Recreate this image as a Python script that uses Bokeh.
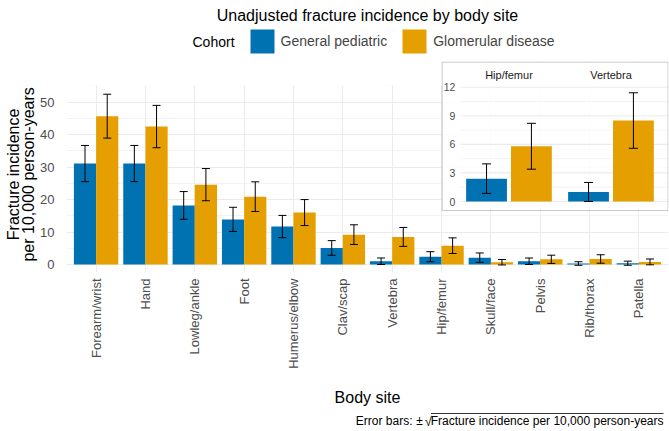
import math
import numpy as np
from bokeh.plotting import figure
from bokeh.layouts import column
from bokeh.models import (ColumnDataSource, Range1d, Whisker, TeeHead, Label, FixedTicker,
                          LabelSet, BoxAnnotation, Legend, LegendItem, LinearScale)
from bokeh.transform import dodge
from bokeh.core.properties import value
from bokeh.embed import file_html
from bokeh.resources import INLINE

# ---------------- data ----------------
sites = ["Forearm/wrist", "Hand", "Lowleg/ankle", "Foot", "Humerus/elbow", "Clav/scap",
         "Vertebra", "Hip/femur", "Skull/face", "Pelvis", "Rib/thorax", "Patella"]
general = [31.1, 31.1, 18.2, 13.9, 11.7, 5.1, 1.0, 2.4, 2.1, 1.0, 0.3, 0.4]
glomerular = [45.7, 42.5, 24.6, 20.9, 16.0, 9.2, 8.5, 5.8, 0.7, 1.6, 1.7, 0.8]
cohorts = ["General pediatric", "Glomerular disease"]
colors = ["#0072B2", "#E69F00"]
y_ticks = [0, 10, 20, 30, 40, 50]
y_minor = [5, 15, 25, 35, 45, 55]
inset_sites = ["Hip/femur", "Vertebra"]
inset_ticks = [0, 3, 6, 9, 12]
inset_minor = [1.5, 4.5, 7.5, 10.5]

FONT = "Liberation Sans"
W = 669
H_HEAD, H_MAIN, H_FOOT = 58, 329, 44
FL, FR = 66, 668          # frame left/right (canvas px)
FRAME_H = 214             # main frame: canvas y 58 .. 272
NB = "\u00a0" * 4

gen = np.array(general)
glo = np.array(glomerular)
pos = [i + 0.5 for i in range(len(sites))]  # category centres on the numeric x scale
src = ColumnDataSource(dict(pos=pos, site=sites, gen=gen, glo=glo,
                            gen_lo=gen - np.sqrt(gen), gen_hi=gen + np.sqrt(gen),
                            glo_lo=glo - np.sqrt(glo), glo_hi=glo + np.sqrt(glo)))

idx = [sites.index(s) for s in inset_sites]
igen = gen[idx]
iglo = glo[idx]
isrc = ColumnDataSource(dict(pos=list(range(len(inset_sites))), gen=igen, glo=iglo,
                             gen_lo=igen - np.sqrt(igen), gen_hi=igen + np.sqrt(igen),
                             glo_lo=iglo - np.sqrt(iglo), glo_hi=iglo + np.sqrt(iglo)))


def strip(height):
    f = figure(width=W, height=height, x_range=Range1d(FL, FR), y_range=Range1d(0, height),
               output_backend="svg", toolbar_location=None, min_border=0,
               x_axis_location=None, y_axis_location=None)
    f.outline_line_color = None
    f.xgrid.visible = False
    f.ygrid.visible = False
    return f


# ---------------- header: title + legend ----------------
hd = strip(H_HEAD)
hd.text(x=[367], y=[H_HEAD - 14.5], text=["Unadjusted fracture incidence by body site"], text_align="center",
        text_baseline="alphabetic", text_font=value(FONT), text_font_size="16px", text_color="black")
hd.text(x=[192], y=[H_HEAD - 41], text=["Cohort"], text_align="left", text_baseline="middle",
        text_font=value(FONT), text_font_size="14px", text_color="black")
lg_r = [hd.vbar(x=[0], top=[0], width=1, fill_color=c, line_color=None) for c in colors]
hd.add_layout(Legend(items=[LegendItem(label=cohorts[i], renderers=[lg_r[i]]) for i in range(2)],
                     location=(180.6, 2), orientation="horizontal", glyph_width=30, glyph_height=30,
                     label_standoff=4, spacing=12, padding=0, margin=0, border_line_color=None,
                     background_fill_alpha=0, label_text_font=FONT, label_text_font_size="14px",
                     label_height=30))

# ---------------- main plot ----------------
p = figure(width=W, height=H_MAIN, x_range=Range1d(-0.1, len(sites) + 0.1), y_range=Range1d(-2.465, 63.46),
           output_backend="svg", toolbar_location=None,
           min_border_left=FL, min_border_right=W - FR, min_border_top=0, min_border_bottom=H_MAIN - FRAME_H)
p.outline_line_color = None
p.background_fill_color = "white"
p.extra_x_ranges = {"ix": Range1d(-4.338, 1.564)}
p.extra_x_scales = {"ix": LinearScale()}
p.extra_y_ranges = {"iy": Range1d(-7.454, 15.013)}
p.extra_y_scales = {"iy": LinearScale()}

yt = FixedTicker(ticks=y_ticks, minor_ticks=y_minor)
p.yaxis.ticker = yt
p.ygrid.ticker = yt
xt = FixedTicker(ticks=pos, minor_ticks=[])
p.xaxis.ticker = xt
p.xgrid.ticker = xt
p.xaxis.major_label_overrides = {x: s for x, s in zip(pos, sites)}
p.ygrid.grid_line_color = "#EBEBEB"
p.ygrid.grid_line_width = 1.1
p.ygrid.minor_grid_line_color = "#EBEBEB"
p.ygrid.minor_grid_line_width = 0.6
p.xgrid.grid_line_color = "#EBEBEB"
p.xgrid.grid_line_width = 1.1
# blank the grid above the panel
p.add_layout(BoxAnnotation(bottom=55.1, fill_color="white", fill_alpha=1, line_color=None, level="underlay"))

for ax in (p.xaxis, p.yaxis):
    ax.axis_line_color = None
    ax.major_tick_line_color = None
    ax.minor_tick_line_color = None
    ax.major_tick_out = 0
    ax.major_tick_in = 0
    ax.major_label_text_font = FONT
    ax.major_label_text_font_size = "13px"
    ax.major_label_text_color = "#4D4D4D"
    ax.axis_label_text_font = FONT
    ax.axis_label_text_font_size = "16px"
    ax.axis_label_text_font_style = "normal"
    ax.axis_label_text_color = "black"
p.xaxis.major_label_orientation = math.pi / 2
p.xaxis.major_label_standoff = 6
p.yaxis.major_label_standoff = 8
p.yaxis.axis_label = "Fracture incidence" + NB + "\nper 10,000 person-years" + NB
p.yaxis.axis_label_text_line_height = 0.9
p.yaxis.axis_label_standoff = 0

p.vbar(x=dodge("pos", -0.225), top="gen", width=0.45, source=src, fill_color=colors[0], line_color=None)
p.vbar(x=dodge("pos", 0.225), top="glo", width=0.45, source=src, fill_color=colors[1], line_color=None)
for col, off in (("gen", -0.225), ("glo", 0.225)):
    p.add_layout(Whisker(base=dodge("pos", off), lower=col + "_lo", upper=col + "_hi",
                         source=src, line_color="black", line_width=1, level="annotation",
                         upper_head=TeeHead(size=8, line_color="black", line_width=1),
                         lower_head=TeeHead(size=8, line_color="black", line_width=1)))

# inset (box given in px from the frame's bottom-left corner)
box = dict(left=375.7, right=601.5, top=210.3, bottom=62,
           left_units="screen", right_units="screen", top_units="screen", bottom_units="screen")
p.add_layout(BoxAnnotation(fill_color="white", fill_alpha=0.85, line_color=None, level="underlay", **box))
p.segment(x0=-0.475, x1=1.56, y0=inset_ticks, y1=inset_ticks, line_color="#EBEBEB", line_width=1.1,
          x_range_name="ix", y_range_name="iy")
p.segment(x0=-0.475, x1=1.56, y0=inset_minor, y1=inset_minor, line_color="#EBEBEB", line_width=0.6,
          x_range_name="ix", y_range_name="iy")
p.vbar(x=dodge("pos", -0.22), top="gen", width=0.4, source=isrc, fill_color=colors[0], line_color=None,
       x_range_name="ix", y_range_name="iy")
p.vbar(x=dodge("pos", 0.22), top="glo", width=0.4, source=isrc, fill_color=colors[1], line_color=None,
       x_range_name="ix", y_range_name="iy")
for col, off in (("gen", -0.22), ("glo", 0.22)):
    p.add_layout(Whisker(base=dodge("pos", off), lower=col + "_lo", upper=col + "_hi", source=isrc,
                         line_color="black", line_width=1, level="annotation",
                         x_range_name="ix", y_range_name="iy",
                         upper_head=TeeHead(size=9, line_color="black", line_width=1),
                         lower_head=TeeHead(size=9, line_color="black", line_width=1)))
p.add_layout(BoxAnnotation(fill_alpha=0, line_color="#555555", line_width=1, level="annotation", **box))
tsrc = ColumnDataSource(dict(y=inset_ticks, t=[str(v) for v in inset_ticks]))
p.add_layout(LabelSet(x=-0.525, y="y", text="t", source=tsrc, x_range_name="ix", y_range_name="iy",
                      text_align="right", text_baseline="middle", text_font=value(FONT),
                      text_font_size="10.5px", text_color="#4D4D4D"))
for i, s in enumerate(inset_sites):
    p.add_layout(Label(x=i, y=13.28, text=s, x_range_name="ix", y_range_name="iy",
                       text_align="center", text_baseline="middle", text_font=FONT,
                       text_font_size="11px", text_color="#1A1A1A"))

# ---------------- footer: x-axis title + caption ----------------
ft = strip(H_FOOT)
ft.text(x=[367], y=[34], text=["Body site"], text_align="center", text_baseline="middle",
        text_font=value(FONT), text_font_size="16px", text_color="black")
ft.text(x=[663], y=[11], text=["Fracture incidence per 10,000 person-years"], text_align="right",
        text_baseline="middle", text_font=value(FONT), text_font_size="12px", text_color="black")
ft.text(x=[431.5], y=[10.5], text=["\u221a"], text_align="right", text_baseline="middle",
        text_font=value(FONT), text_font_size="13px", text_color="black")
ft.text(x=[419], y=[11], text=["\u00b1"], text_align="center", text_baseline="middle",
        text_font=value(FONT), text_font_size="12px", text_color="black")
ft.text(x=[412], y=[11], text=["Error bars:"], text_align="right", text_baseline="middle",
        text_font=value(FONT), text_font_size="12px", text_color="black")
ft.segment(x0=[430.5], x1=[663], y0=[18.0], y1=[18.0], line_color="black", line_width=0.8)

layout = column(hd, p, ft, spacing=0)
open("out.html", "w").write(file_html(layout, INLINE))
